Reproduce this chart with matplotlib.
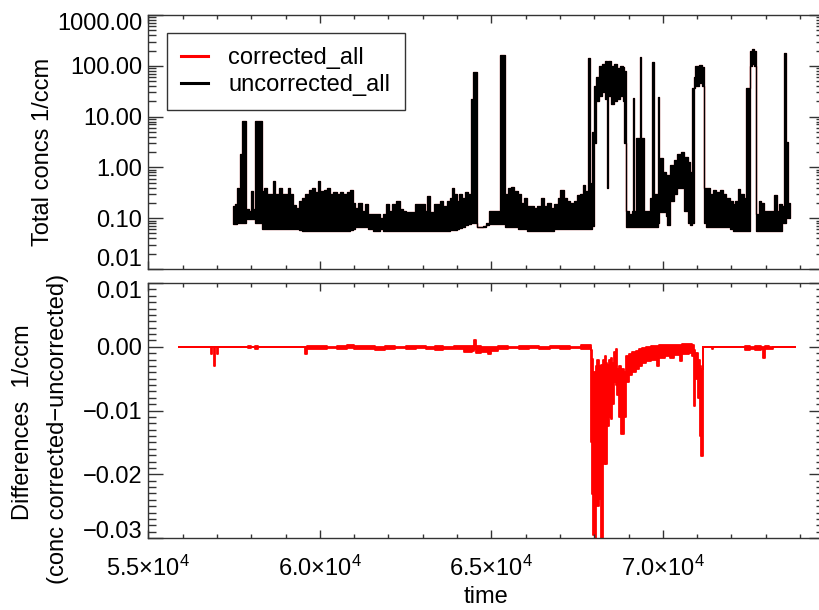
import matplotlib
matplotlib.use('Agg')
import matplotlib.pyplot as plt
import matplotlib.ticker as mticker
import matplotlib.transforms as mtransforms
from matplotlib.lines import Line2D
import numpy as np

plt.rcParams['font.family'] = ['Liberation Sans', 'DejaVu Sans']
plt.rcParams['mathtext.fontset'] = 'custom'
plt.rcParams['mathtext.rm'] = 'Liberation Sans'
plt.rcParams['mathtext.it'] = 'Liberation Sans:italic'
plt.rcParams['mathtext.bf'] = 'Liberation Sans:bold'

# ---------------- data ----------------
# top panel: envelope of the dense concentration record
t_top = [57471, 57539, 57587, 57636, 57684, 57733, 57849, 57926, 58004, 58052,
         58120, 58314, 58362, 58459, 58556, 58634, 58701, 58798, 58895, 58992,
         59060, 59138, 59215, 59302, 59399, 59477, 59574, 59670, 59767, 59864,
         59942, 60010, 60107, 60204, 60300, 60397, 60494, 60591, 60688, 60785,
         60882, 60959, 61027, 61124, 61221, 61318, 61415,
         61551, 61648, 61745, 61842, 61919, 62016, 62113, 62229, 62326, 62423,
         62520, 62617, 62762, 62908, 63053, 63121, 63198, 63315, 63392, 63489,
         63586, 63702, 63780, 63847, 63925, 63993, 64070, 64148, 64245, 64322,
         64410, 64477, 64574, 64748, 64845, 64923, 65039, 65185, 65253, 65408,
         65476, 65573, 65670, 65767,
         65853, 65950, 66027, 66144, 66241, 66337, 66434, 66531, 66628, 66725,
         66841, 66938, 67016, 67113, 67209, 67306, 67403, 67500, 67597, 67665,
         67743, 67810, 67868, 67907, 67946, 67985, 68043, 68130, 68227, 68324,
         68372, 68411, 68498, 68566, 68663, 68760, 68837, 68876, 68915, 69002,
         69099, 69128, 69167, 69225, 69322, 69361, 69439, 69535, 69613, 69681,
         69729, 69845, 69903, 70000, 70097,
         70126, 70223, 70320, 70417, 70533, 70630, 70727, 70804, 70853, 70901,
         70950, 71046, 71143, 71192, 71269, 71366, 71463, 71560, 71657, 71754,
         71851, 71948, 72045, 72113, 72181, 72258, 72355, 72432, 72529, 72597,
         72665, 72723, 72791, 72859, 72936, 73033, 73130, 73246, 73324, 73401,
         73479, 73537, 73595, 73653, 73711]
lo_top = [.076, .076, .08, .08, .08, .08, .095, .095, .095, .095,
          .08, .061, .061, .061, .061, .061, .061, .061, .061, .061,
          .061, .061, .061, .061, .058, .056, .055, .055, .055, .055,
          .055, .055, .055, .055, .055, .055, .055, .055, .056, .057,
          .058, .062, .066, .066, .066, .066, .062,
          .057, .057, .06, .057, .057, .057, .057, .057, .057, .057,
          .057, .057, .057, .057, .057, .057, .057, .057, .057, .057,
          .057, .057, .058, .058, .058, .06, .064, .068, .072, .076,
          .08, .08, .066, .068, .075, .076, .076, .076, .076, .066,
          .066, .066, .066, .061,
          .061, .061, .057, .057, .057, .057, .057, .057, .057, .057,
          .061, .061, .061, .061, .061, .061, .061, .061, .061, .061,
          .061, .061, .061, .062, .07, 3, 20, 25, 30, 22,
          0.4, 25, 18, 20, 22, 25, 20, 3, .066, .066,
          .066, .066, .066, .066, .066, .066, .066, .066, .066, .066,
          .066, .08, .13, .13, .11,
          .075, .22, .3, .4, .4, .14, .08, .075, .08, 36,
          40, 45, 40, .08, .066, .066, .066, .066, .066, .066,
          .066, .06, .055, .055, .055, .055, .055, .055, 100, 110,
          100, .055, .057, .057, .057, .057, .057, .057, .057, .057,
          .08, .08, .1, .1, .1]
hi_top = [.17, .19, .40, .25, 1.8, 8.2, .15, .14, .34, .15,
          8.2, .34, .40, .30, .30, .53, .30, .40, .30, .30,
          .40, .30, .18, .16, .22, .25, .30, .36, .40, .33,
          .55, .34, .36, .40, .30, .33, .30, .33, .30, .33,
          .36, .20, .16, .20, .14, .19, .12,
          .12, .12, .10, .12, .19, .14, .19, .22, .15, .14,
          .13, .13, .19, .19, .14, .27, .13, .19, .19, .22,
          .17, .22, .25, .40, .30, .22, .30, .25, .33, .30,
          22, 75, .068, .07, .08, .14, .14, .14, 160, .30,
          .40, .42, .35, .30,
          .20, .25, .17, .17, .16, .17, .25, .17, .20, .16,
          .19, .25, .36, .25, .22, .20, .22, .28, .30, .45,
          .35, 141, .30, .50, 5, 40, 60, 100, 110, 127,
          110, 127, 100, 110, 90, 100, 95, 80, .14, .12,
          .14, 23, .14, 3.8, 148, 3.8, .14, .14, .25, 118,
          .30, 24.5, 1.5, 0.8, 0.7,
          .72, 1.1, 1.4, 1.8, 2.0, 1.6, 1.3, .8, 36, 60,
          100, 105, 95, .4, .40, .30, .36, .33, .36, .30,
          .25, .22, .19, .22, .38, .30, .25, 36, 200, 210,
          200, .12, .22, .20, .14, .14, .14, .29, .14, .19,
          .17, 180, 3.1, .2, .2]

# bottom panel: envelope of the difference record
t_bot = [55882, 56822, 56860, 56900, 56950, 57000, 57040, 57917, 58000, 58100,
         58200, 58256, 59564, 59613, 59900, 60200, 60500, 60800, 61000, 61300,
         61600, 61900, 62200, 62500, 62800, 63100, 63343, 63600, 63900, 64215,
         64450, 64506, 64560, 64700, 64894, 64991, 65200, 65500, 65800, 66100,
         66400, 66700, 67000, 67300, 67600, 67898, 67917, 67946, 67975, 68014,
         68053, 68091, 68150, 68188, 68227, 68266, 68304, 68343, 68382, 68430,
         68479, 68527, 68576, 68624, 68672, 68721, 68770, 68818, 68867, 68915,
         69012, 69109, 69206, 69303, 69400, 69497, 69642, 69836, 69885, 70078,
         70223, 70320, 70514, 70562, 70756, 70853, 70902, 70950, 71018, 71076,
         71124, 71163, 71433, 71460, 72402, 72550, 72700, 72850, 72935, 72980,
         73100, 73225, 73855]
lo_bot = [0, -0.0012, 0, -0.003, 0, -0.0011, 0, -0.0002, -0.0001, -0.0003,
          -0.0001, 0, -0.0011, -0.0003, -0.0003, -0.0002, -0.0004, -0.0002, -0.0003, -0.0003,
          -0.0005, -0.0003, -0.0002, -0.0003, -0.0002, -0.0003, -0.0005, -0.0003, -0.0004, -0.0008,
          -0.0006, -0.0004, -0.001, -0.0009, -0.0012, -0.0006, -0.0003, -0.0002, -0.0003, -0.0002,
          -0.0003, -0.0002, -0.0003, -0.0002, -0.0003, -0.0002, -0.015, -0.0231, -0.0296, -0.0305,
          -0.0234, -0.025, -0.0239, -0.031, -0.031, -0.0184, -0.015, -0.0184, -0.0124, -0.011,
          -0.0114, -0.009, -0.0056, -0.006, -0.0075, -0.011, -0.0137, -0.0137, -0.011, -0.0056,
          -0.0045, -0.004, -0.0035, -0.003, -0.0025, -0.0022, -0.002, -0.003, -0.0018, -0.0015,
          -0.0018, -0.0013, -0.0022, -0.0012, -0.001, -0.0015, -0.0093, -0.005, -0.008, -0.014,
          -0.0171, 0, -0.0004, 0, -0.0005, -0.0003, -0.0005, -0.0003, -0.0017, -0.0004,
          -0.0003, 0, 0]
hi_bot = [0, 0, 0, 0, 0, 0, 0, 0.0001, 0.0, 0.0001,
          0.0, 0, 0.0, 0.0001, 0.0001, 0.0, 0.0001, 0.0002, 0.0001, 0.0001,
          0.0, 0.0001, 0.0, 0.0001, 0.0001, 0.0, 0.0001, 0.0, 0.0001, 0.0001,
          0.0001, 0.0011, 0.0001, 0.0, 0.0, 0.0, 0.0001, 0.0, 0.0001, 0.0001,
          0.0, 0.0001, 0.0001, 0.0, 0.0002, 0.0, -0.0005, -0.0019, -0.004, -0.0066,
          -0.003, -0.002, -0.003, -0.0028, -0.004, -0.002, -0.0014, -0.0025, -0.0028, -0.002,
          -0.0018, -0.0025, -0.0008, -0.0004, -0.0035, -0.003, -0.004, -0.0035, -0.004, -0.0015,
          -0.0012, -0.0008, -0.0006, -0.0004, -0.0002, 0.0, 0.0001, 0.0001, 0.0002, 0.0002,
          0.0002, 0.0003, 0.0003, 0.0004, 0.0004, 0.0002, -0.0005, -0.001, -0.002, -0.003,
          -0.0035, 0, 0, 0, 0.0001, 0.0, 0.0001, 0.0, 0.0, 0.0001,
          0.0, 0, 0]

x_range = (55000, 74700)
y1_ticks = [0.01, 0.1, 1, 10, 100, 1000]
y2_ticks = [-0.03, -0.02, -0.01, 0.0, 0.01]
legend_labels = ['corrected_all', 'uncorrected_all']

# ---------------- figure ----------------
FS = 17
W, H = 819, 610
fig = plt.figure(figsize=(W / 100, H / 100), dpi=100)


def ax_rect(l, t, r, b):
    return [l / W, 1 - b / H, (r - l) / W, (b - t) / H]


ax1 = fig.add_axes(ax_rect(148.4, 15, 824, 269))
ax2 = fig.add_axes(ax_rect(148.4, 283, 824, 538))

ax1.fill_between(t_top, lo_top, hi_top, step='post', facecolor='#cc0000',
                 edgecolor='#aa0000', lw=0.9)
ax1.fill_between(t_top, lo_top, hi_top, step='post', facecolor='black',
                 edgecolor='black', lw=0.8)
ax1.set_yscale('log')
ax1.set_ylim(0.01, 1000)
ax1.yaxis.set_major_locator(mticker.FixedLocator(y1_ticks))
ax1.yaxis.set_major_formatter(mticker.FuncFormatter(lambda v, p: '%.2f' % v))
ax1.yaxis.set_minor_locator(mticker.LogLocator(base=10, subs=np.arange(2, 10)))
ax1.yaxis.set_minor_formatter(mticker.NullFormatter())

ax2.fill_between(t_bot, lo_bot, hi_bot, step='post', facecolor='red',
                 edgecolor='red', lw=1.3)
ax2.set_ylim(-0.03, 0.01)
ax2.yaxis.set_major_locator(mticker.FixedLocator(y2_ticks))
ax2.yaxis.set_major_formatter(mticker.FuncFormatter(
    lambda v, p: ('%.2f' % v).replace('-', '\u2212') if abs(v) > 1e-9 else '0.00'))
ax2.yaxis.set_minor_locator(mticker.MultipleLocator(0.001))

for ax in (ax1, ax2):
    ax.set_xlim(*x_range)
    ax.xaxis.set_major_locator(mticker.MultipleLocator(5000))
    ax.xaxis.set_minor_locator(mticker.MultipleLocator(1000))
    ax.tick_params(which='both', direction='in', top=True, right=True,
                   labelsize=FS, color='#333333', width=1)
    ax.tick_params(axis='x', which='major', length=5.8, pad=12.5)
    ax.tick_params(axis='x', which='minor', length=2.9)
    ax.tick_params(axis='y', which='major', length=11, pad=4.3)
    ax.tick_params(axis='y', which='minor', length=5.8)
    for s in ax.spines.values():
        s.set_color('#333333')
        s.set_linewidth(1)

ax1.tick_params(axis='x', labelbottom=False)
ax2.xaxis.set_major_formatter(mticker.FuncFormatter(
    lambda v, p: r'$%.1f{\times}10^{4}$' % (v / 1e4)))

ax2.set_xlabel('time', fontsize=FS, labelpad=4)

fig.text(43 / W, 1 - 152 / H, 'Total concs 1/ccm', rotation=90,
         ha='center', va='center', fontsize=FS)
fig.text(23 / W, 1 - 422 / H, 'Differences  1/ccm', rotation=90,
         ha='center', va='center', fontsize=FS)
fig.text(58 / W, 1 - 429 / H, '(conc corrected\u2212uncorrected)', rotation=90,
         ha='center', va='center', fontsize=FS)

handles = [Line2D([], [], color='red', lw=2.2), Line2D([], [], color='black', lw=2.2)]
leg = ax1.legend(handles, legend_labels, loc='upper left',
                 bbox_to_anchor=(167 / W, 1 - 33 / H), bbox_transform=fig.transFigure,
                 borderaxespad=0, fontsize=FS, frameon=True, fancybox=False,
                 edgecolor='#333333', framealpha=1, handlelength=1.15,
                 handletextpad=0.85, labelspacing=0.2, borderpad=0.6)
leg.get_frame().set_linewidth(1.0)


def shift_label(ax, idx, dy):
    tk = ax.yaxis.get_major_ticks()[idx]
    off = mtransforms.ScaledTranslation(0, dy / 100, fig.dpi_scale_trans)
    tk.label1.set_transform(tk.label1.get_transform() + off)


shift_label(ax1, 0, 12)
shift_label(ax1, -1, -6.7)
shift_label(ax2, 0, 8)
shift_label(ax2, -1, -6.5)

fig.savefig('out.png', dpi=100)
